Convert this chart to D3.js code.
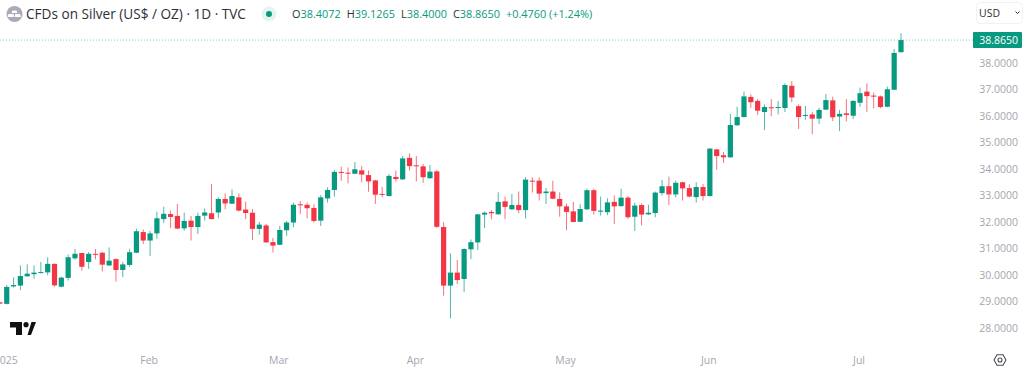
<!DOCTYPE html>
<html>
<head>
<meta charset="utf-8">
<script src="https://cdn.jsdelivr.net/npm/d3@7"></script>
<style>
  html, body { margin: 0; padding: 0; background: #fff; overflow: hidden; }
  text { font-family: "Open Sans", sans-serif; }
</style>
</head>
<body>
<svg id="chart" width="1024" height="370"></svg>
<script>
// daily candles
const opens = [28.97,28.91,29.57,29.60,29.95,30.03,30.08,30.10,30.42,29.56,29.89,30.63,30.83,30.49,30.80,30.84,30.36,30.60,30.19,30.38,
  30.84,31.62,31.30,31.57,32.11,32.30,32.23,31.76,32.05,31.81,32.24,32.33,32.36,32.87,32.69,32.93,32.47,32.35,31.74,31.87,
  31.24,31.14,31.69,31.98,32.67,32.65,32.53,32.05,32.89,33.21,33.89,33.86,33.82,33.95,33.77,33.57,33.06,32.98,33.70,33.61,
  34.42,34.14,34.10,33.65,33.91,31.81,29.60,30.09,29.85,30.97,31.23,32.28,32.38,32.29,32.78,32.48,32.64,32.45,33.56,33.56,
  33.09,33.15,32.87,32.59,32.40,32.01,32.48,33.20,32.39,32.37,32.76,32.60,32.92,32.20,32.64,32.29,32.34,33.09,33.35,33.04,
  33.50,33.28,32.94,33.32,32.98,34.74,34.52,34.44,35.65,35.96,36.72,36.57,36.15,36.33,36.32,36.30,37.14,36.37,36.01,36.06,
  35.90,36.24,36.59,35.98,36.10,36.01,36.50,36.92,36.77,36.74,36.35,36.99,38.4072];
const highs = [28.98,29.62,29.91,30.36,30.40,30.36,30.49,30.67,30.44,29.94,30.77,30.98,30.84,30.87,30.98,30.87,31.04,30.62,30.50,30.99,
  31.75,31.72,31.67,32.39,32.58,32.43,32.68,32.35,32.23,32.35,32.51,33.43,32.93,33.08,33.23,33.08,32.77,32.49,32.00,31.93,
  31.40,31.85,32.04,32.73,32.79,32.74,32.67,33.02,33.31,33.96,34.09,34.06,34.26,34.11,33.94,33.58,33.33,33.81,33.94,34.49,
  34.59,34.49,34.19,34.15,33.96,31.99,30.82,30.57,31.01,31.34,32.30,32.39,32.45,33.12,32.96,33.06,33.15,33.69,33.69,33.69,
  33.28,33.56,33.12,32.70,32.76,32.67,33.25,33.25,32.96,32.89,33.00,33.25,32.98,32.73,32.70,32.65,33.15,33.59,33.71,33.56,
  33.52,33.43,33.50,33.43,34.78,34.76,34.65,36.08,36.35,36.92,36.82,36.64,36.44,36.64,36.57,37.23,37.32,36.44,36.38,36.16,
  36.31,36.83,36.73,36.23,36.64,36.59,37.07,37.23,36.88,36.77,37.11,38.53,39.1265];
const lows = [28.91,28.89,29.53,29.43,29.94,29.86,30.06,29.99,29.56,29.53,29.79,30.57,30.16,30.23,30.59,30.13,30.34,29.75,29.92,30.31,
  30.82,31.17,30.72,31.37,31.97,31.77,31.74,31.67,31.30,31.55,32.05,32.10,32.14,32.48,32.68,32.40,32.11,31.32,31.52,31.22,
  30.85,31.13,31.48,31.80,32.30,32.14,31.98,31.85,32.73,32.96,33.55,33.46,33.81,33.50,33.14,32.68,32.93,32.96,33.52,33.58,
  33.94,33.53,33.48,33.64,31.77,29.22,28.36,29.66,29.36,30.60,30.94,31.77,32.10,32.28,32.11,32.45,32.33,32.13,33.11,32.81,
  32.68,32.86,32.20,31.69,31.99,32.00,32.45,32.28,32.24,32.26,31.92,32.58,32.11,31.66,31.87,32.26,32.18,33.00,32.64,32.93,
  32.81,32.93,32.73,32.81,32.96,33.97,34.23,34.43,35.63,35.95,36.31,36.04,35.47,35.99,36.06,36.15,36.52,35.51,35.86,35.31,
  35.70,36.23,35.81,35.43,35.80,35.89,36.35,36.16,36.29,36.29,36.33,36.98,38.40];
const closes = [28.92,29.55,29.62,29.96,30.05,30.09,30.11,30.42,29.61,29.90,30.67,30.80,30.31,30.80,30.78,30.39,30.54,30.19,30.40,30.86,
  31.65,31.30,31.57,32.14,32.31,32.19,31.75,32.04,31.81,32.23,32.36,32.11,32.87,32.70,32.98,32.43,32.34,31.74,31.90,31.23,
  31.11,31.70,31.98,32.65,32.64,32.52,32.04,32.93,33.21,33.89,33.86,33.84,33.99,33.79,33.53,33.03,33.03,33.74,33.62,34.40,
  34.11,34.11,33.69,33.90,31.82,29.60,30.09,29.81,30.98,31.24,32.29,32.35,32.33,32.76,32.57,32.64,32.45,33.60,33.53,33.07,
  33.15,32.88,32.59,32.38,32.00,32.49,33.20,32.42,32.43,32.74,32.59,32.92,32.18,32.62,32.28,32.35,33.11,33.35,33.04,33.48,
  33.27,32.96,33.32,32.98,34.77,34.49,34.44,35.66,35.96,36.74,36.52,36.20,36.34,36.29,36.34,37.17,36.70,35.96,36.04,35.90,
  36.23,36.60,35.95,36.08,36.04,36.57,36.86,36.75,36.73,36.34,37.01,38.38,38.8650];

const priceTicks = [28,29,30,31,32,33,34,35,36,37,38];
const monthLabels = ['2025','Feb','Mar','Apr','May','Jun','Jul'];
const monthCandles = [1,22,41,61,83,104,126];

const lastOpen = '38.4072', lastHigh = '39.1265', lastLow = '38.4000', lastClose = '38.8650';
const lastChange = '+0.4760 (+1.24%)';

const UP = '#089981', DOWN = '#f23645', AXIS_TEXT = '#a3a6af', INK = '#2e3038';

var svg = d3.select('#chart');
var candles = d3.range(opens.length);

var xScale = d3.scaleLinear().domain([0, opens.length - 1]).range([-0.1, 901]);
var yScale = d3.scaleLinear().domain([28, 38]).range([328, 63]);

function colorOf(i) {
  return closes[i] >= opens[i] ? UP : DOWN;
}

// last price guide
svg.append('line')
  .attr('x1', 0)
  .attr('x2', 973)
  .attr('y1', yScale(closes[closes.length - 1]))
  .attr('y2', yScale(closes[closes.length - 1]))
  .attr('stroke', UP)
  .attr('stroke-opacity', 0.5)
  .attr('stroke-dasharray', '1 2');

// wicks
svg.append('g')
  .selectAll('line')
  .data(candles)
  .enter()
  .append('line')
  .attr('x1', function (i) { return xScale(i); })
  .attr('x2', function (i) { return xScale(i); })
  .attr('y1', function (i) { return yScale(highs[i]); })
  .attr('y2', function (i) { return yScale(lows[i]); })
  .attr('stroke', colorOf)
  .attr('stroke-opacity', 0.7)
  .attr('stroke-width', 1);

// bodies
svg.append('g')
  .selectAll('rect')
  .data(candles)
  .enter()
  .append('rect')
  .attr('x', function (i) { return xScale(i) - 2.6; })
  .attr('width', 5.2)
  .attr('y', function (i) { return yScale(Math.max(opens[i], closes[i])); })
  .attr('height', function (i) {
    return Math.max(1, Math.abs(yScale(opens[i]) - yScale(closes[i])));
  })
  .attr('fill', colorOf);

// price axis
var yAxis = svg.append('g')
  .attr('transform', 'translate(1018,0)')
  .call(d3.axisLeft(yScale).tickValues(priceTicks).tickSize(0).tickFormat(d3.format('.4f')));
yAxis.select('.domain').remove();
yAxis.selectAll('text')
  .attr('x', 0)
  .attr('font-size', 10.5)
  .style('font-family', '"Open Sans", sans-serif')
  .attr('fill', AXIS_TEXT);

// time axis, labels sit a little left of their candle
var xAxis = svg.append('g')
  .attr('transform', 'translate(-1.5,354)')
  .call(d3.axisBottom(xScale)
    .tickValues(monthCandles)
    .tickSize(0)
    .tickFormat(function (d, i) { return monthLabels[i]; }));
xAxis.select('.domain').remove();
xAxis.selectAll('text')
  .attr('font-size', 10.5)
  .style('font-family', '"Open Sans", sans-serif')
  .attr('fill', AXIS_TEXT);

// last price tag
svg.append('rect')
  .attr('x', 973)
  .attr('y', 32)
  .attr('width', 49)
  .attr('height', 16)
  .attr('rx', 1)
  .attr('fill', UP);
svg.append('text')
  .attr('x', 1018)
  .attr('y', 44)
  .attr('text-anchor', 'end')
  .attr('font-size', 10.5)
  .attr('font-weight', 500)
  .attr('fill', '#fff')
  .text(lastClose);

// header
var header = svg.append('g');
header.append('circle').attr('cx', 14.5).attr('cy', 14).attr('r', 8).attr('fill', '#a9abb6');
header.append('path').attr('d', 'M12.5 10.5h4l1 2.5h-6zM8.5 14h5l1 3h-7zM15 14h5l1 3h-6z').attr('fill', '#fff');
header.append('text')
  .attr('x', 26)
  .attr('y', 19)
  .attr('font-size', 13.6)
  .attr('fill', INK)
  .text('CFDs on Silver (US$ / OZ) · 1D · TVC');
header.append('circle').attr('cx', 269).attr('cy', 14).attr('r', 7.5).attr('fill', '#e3f4f1');
header.append('circle').attr('cx', 269).attr('cy', 14).attr('r', 3).attr('fill', UP);

var ohlc = header.append('text').attr('x', 292).attr('y', 18).attr('font-size', 10.9);
[['O', lastOpen], ['H', lastHigh], ['L', lastLow], ['C', lastClose]].forEach(function (d, i) {
  ohlc.append('tspan').attr('dx', i ? 6 : 0).attr('fill', INK).text(d[0]);
  ohlc.append('tspan').attr('fill', UP).text(d[1]);
});
ohlc.append('tspan').attr('dx', 6).attr('fill', UP).text(lastChange);

// currency button
svg.append('rect')
  .attr('x', 976.5)
  .attr('y', 2.5)
  .attr('width', 46)
  .attr('height', 21)
  .attr('rx', 4)
  .attr('fill', '#fff')
  .attr('stroke', '#f0f1f3');
svg.append('text')
  .attr('x', 979)
  .attr('y', 17)
  .attr('font-size', 10.5)
  .attr('fill', INK)
  .text('USD');
svg.append('path')
  .attr('d', 'M1015.5 11.5l2 2 2-2')
  .attr('fill', 'none')
  .attr('stroke', INK);

// tradingview mark
svg.append('path')
  .attr('d', 'M10 322H22V335H16V327.5H10ZM27.5 335L31.5 322H36L31 335Z')
  .attr('fill', '#111');
svg.append('circle').attr('cx', 26).attr('cy', 324.7).attr('r', 2.6).attr('fill', '#111');

// settings icon
svg.append('path')
  .attr('d', 'M1003 354.8L1006 360L1003 365.2H997L994 360L997 354.8Z')
  .attr('fill', 'none')
  .attr('stroke', '#4a4d57')
  .attr('stroke-width', 1.1);
svg.append('circle')
  .attr('cx', 1000)
  .attr('cy', 360)
  .attr('r', 2)
  .attr('fill', 'none')
  .attr('stroke', '#4a4d57')
  .attr('stroke-width', 1.1);
</script>
</body>
</html>
